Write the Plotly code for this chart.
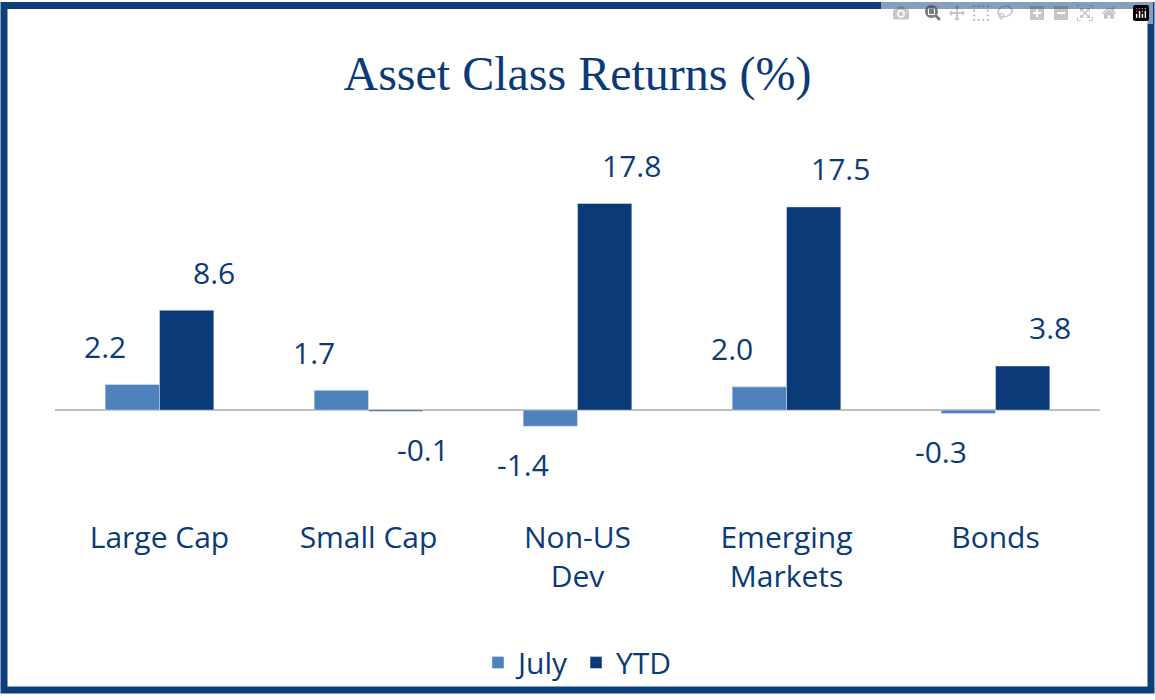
import plotly.graph_objects as go

categories = ["Large Cap", "Small Cap", "Non-US<br>Dev", "Emerging<br>Markets", "Bonds"]
july = [2.2, 1.7, -1.4, 2.0, -0.3]
ytd = [8.6, -0.1, 17.8, 17.5, 3.8]

C_JULY = "#4f81bd"
C_YTD = "#0b3a78"
TXT = "#0b3a78"
FONT = "Open Sans"

fig = go.Figure()
fig.add_bar(x=categories, y=july, name="July", marker_color=C_JULY, offsetgroup=0)
fig.add_bar(x=categories, y=ytd, name="YTD", marker_color=C_YTD, offsetgroup=1)

anns = []
for series, off in [(july, -0.26), (ytd, 0.26)]:
    for j, v in enumerate(series):
        anns.append(dict(x=j + off, y=v, xref="x", yref="y",
                         text=f"{v:.1f}", showarrow=False,
                         yshift=38 if v >= 0 else -38,
                         font=dict(size=30, color=TXT, family=FONT)))
fig.update_layout(annotations=anns)

W, H = 1155, 700
l, r, t, b = 55, 55, 150, 185
pw = W - l - r
ph = H - t - b
fig.add_shape(type="rect", xref="paper", yref="paper",
              x0=-(l - 4) / pw, x1=1 + (r - 4) / pw,
              y0=-(b - 4) / ph, y1=1 + (t - 4) / ph,
              line=dict(color="#0e3f7c", width=7), layer="above")

fig.update_layout(
    width=W, height=H,
    margin=dict(l=l, r=r, t=t, b=b),
    paper_bgcolor="white", plot_bgcolor="white",
    title=dict(text="Asset Class Returns (%)", x=0.5, xanchor="center", y=0.895, yanchor="middle",
               font=dict(family="Liberation Serif", size=48, color=TXT)),
    barmode="group", bargap=0.48, bargroupgap=0,
    xaxis=dict(showgrid=False, showline=False, ticks="", tickfont=dict(size=30, color=TXT, family=FONT),
               ticklabelstandoff=6),
    yaxis=dict(range=[-8.69, 22.4], visible=False, showgrid=False, zeroline=True),
    legend=dict(orientation="h", x=0.5, xanchor="center", y=-0.42, yanchor="middle",
                bgcolor="rgba(0,0,0,0)", font=dict(size=30, color=TXT, family=FONT)),
    showlegend=True,
)
fig.add_hline(y=0, line=dict(color="#bfbfbf", width=2), layer="below")
fig.write_html("out.html", post_script="document.body.style.margin='0';document.body.style.overflow='hidden';")
